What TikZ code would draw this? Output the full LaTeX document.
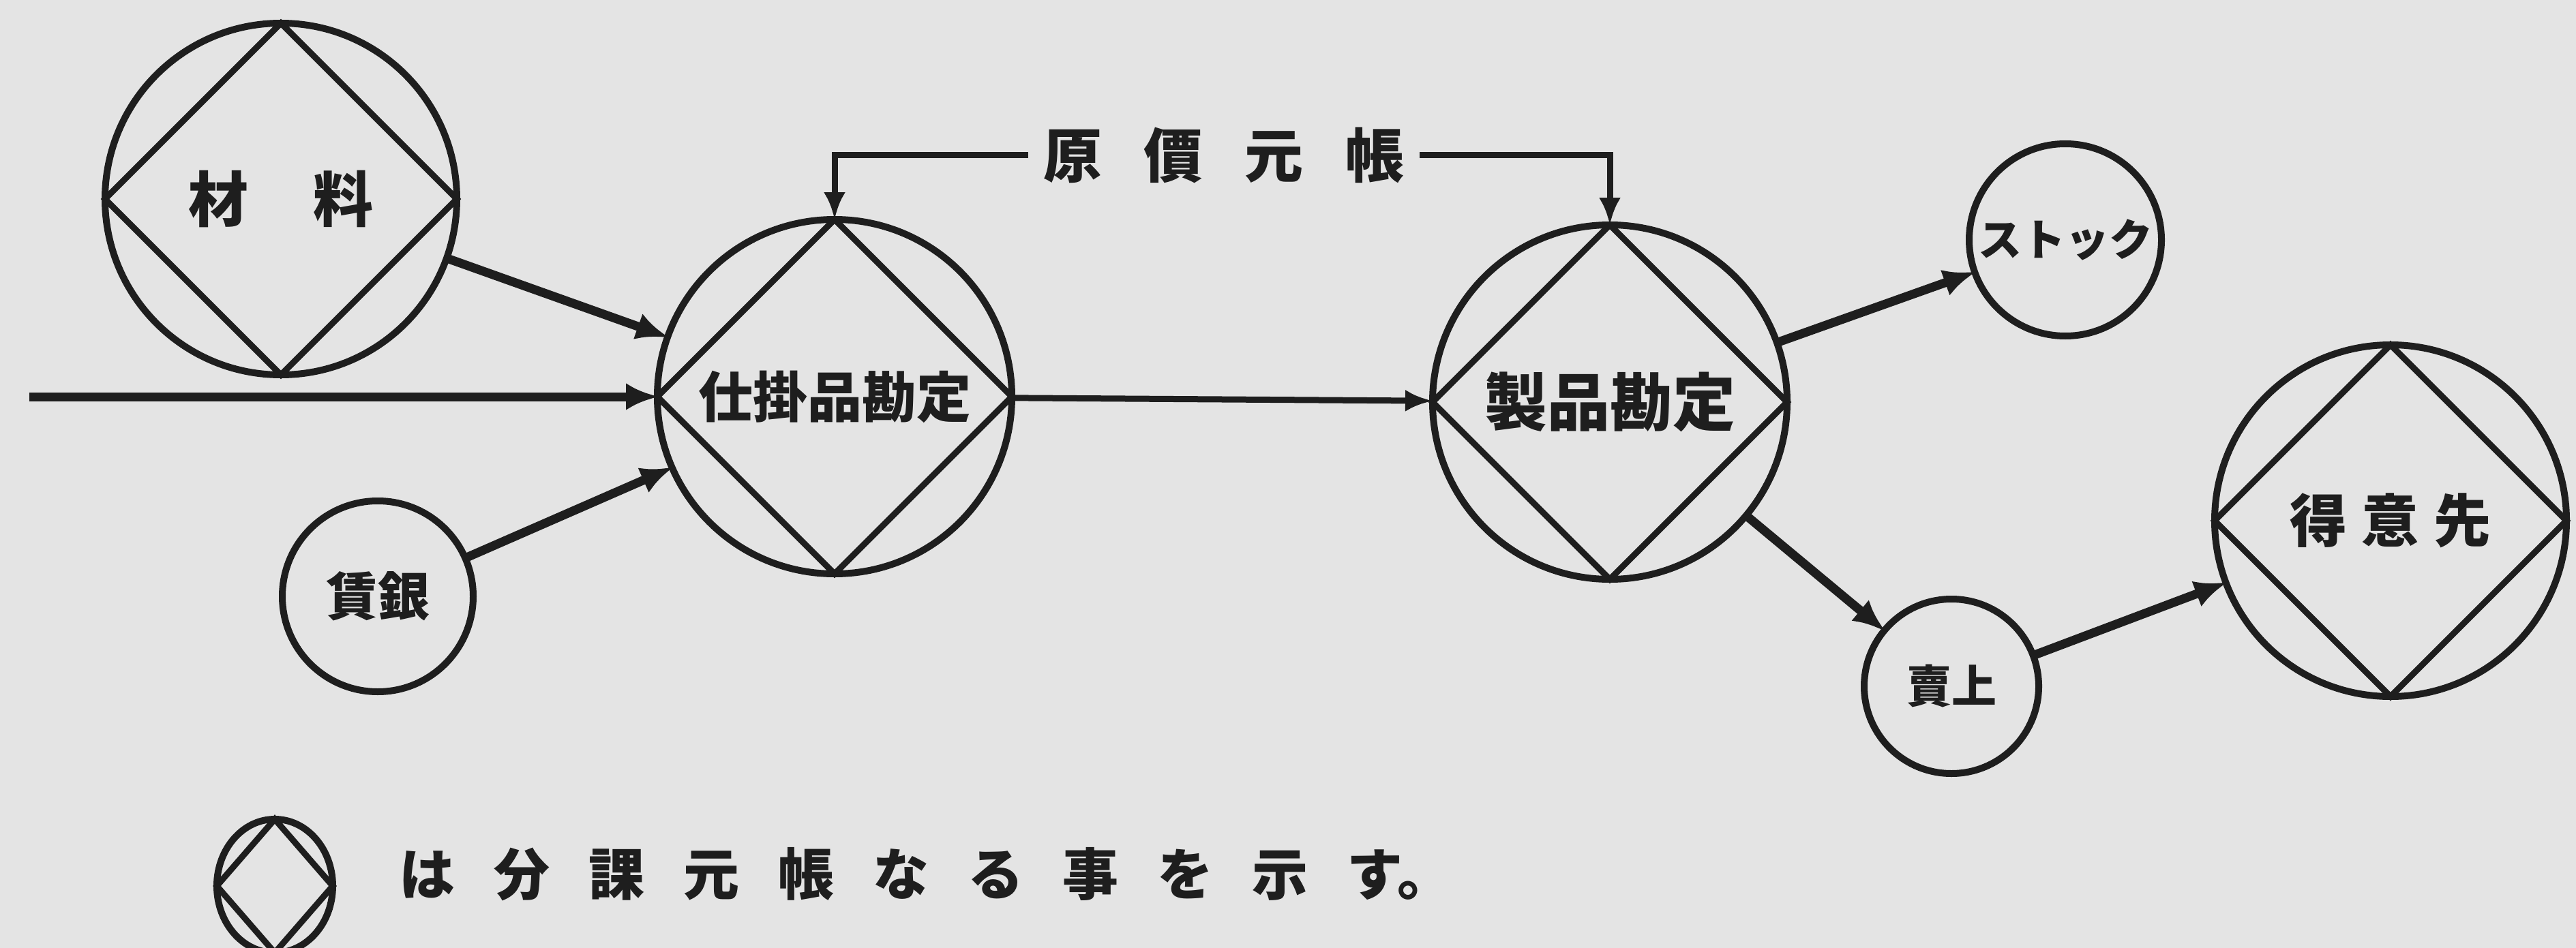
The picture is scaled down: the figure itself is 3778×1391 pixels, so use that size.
\documentclass[tikz,border=0pt]{standalone}
\usepackage{fontspec}
\newfontfamily\jp{Noto Sans CJK JP}
\usetikzlibrary{arrows.meta,shapes.geometric}
\definecolor{paper}{RGB}{228,228,228}
\definecolor{ink}{RGB}{30,30,30}
\newcommand\fs[1]{\fontsize{#1}{#1}\selectfont}
\begin{document}
\begin{tikzpicture}[x=1pt,y=-1pt,
  every node/.style={text=ink},
  acct/.style={circle, draw=ink, line width=10pt, minimum size=#1, inner sep=0pt, outer sep=0pt},
  dia/.style={draw=ink, line width=9pt, line join=miter},
  thick arrow/.style={draw=ink, line width=13pt, -{Latex[length=48pt,width=40pt]}, shorten >=-2pt},
  thin arrow/.style={draw=ink, line width=9pt, -{Latex[length=40pt,width=32pt]}}
]
\fill[paper] (0,0) rectangle (3778,1391);
\useasboundingbox (0,0) rectangle (3778,1391);

% account nodes
\node[acct=516] (zairyo) at (412,292) {\jp\bfseries\fs{88}材\hspace{95pt}料};
\node[acct=520] (shikake) at (1224,582) {\jp\bfseries\fs{80}仕掛品勘定};
\node[acct=520] (seihin) at (2361,590) {\jp\bfseries\fs{92}製品勘定};
\node[acct=282] (stock) at (3029,352) {\jp\bfseries\fs{64}ストック};
\node[acct=280] (chingin) at (554,875) {\jp\bfseries\fs{76}賃銀};
\node[acct=256] (uriage) at (2862,1007) {\jp\bfseries\fs{66}賣上};
\node[acct=516] (tokui) at (3506,764) {\jp\bfseries\fs{84}得\hspace{22pt}意\hspace{22pt}先};
\node[ellipse, draw=ink, line width=10pt, minimum width=170pt, minimum height=196pt, inner sep=0pt, outer sep=0pt] (legend) at (403,1300) {};

\foreach \n in {zairyo,shikake,seihin,tokui,legend}
  \draw[dia] (\n.north) -- (\n.east) -- (\n.south) -- (\n.west) -- cycle;

% cost ledger bracket
\node[inner sep=22pt] (genka) at (1795,228) {\jp\bfseries\fs{86}原\hspace{62pt}價\hspace{62pt}元\hspace{62pt}帳};
\draw[thin arrow] (genka.west) -| (shikake.north);
\draw[thin arrow] (genka.east) -| (seihin.north);

% flows
\coordinate (src) at (43,582);
\draw[thick arrow] (src) -- (shikake);
\draw[thick arrow] (zairyo) -- (shikake);
\draw[thick arrow] (chingin) -- (shikake);
\draw[thin arrow] (shikake) -- (seihin);
\draw[thick arrow] (seihin) -- (stock);
\draw[thick arrow] (seihin) -- (uriage);
\draw[thick arrow] (uriage) -- (tokui);

% legend text
\node[anchor=west, inner sep=0pt] (legtext) at (585,1283) {\jp\bfseries\fs{82}は\hspace{57pt}分\hspace{57pt}課\hspace{57pt}元\hspace{57pt}帳\hspace{57pt}な\hspace{57pt}る\hspace{57pt}事\hspace{57pt}を\hspace{57pt}示\hspace{57pt}す。};
\end{tikzpicture}
\end{document}
